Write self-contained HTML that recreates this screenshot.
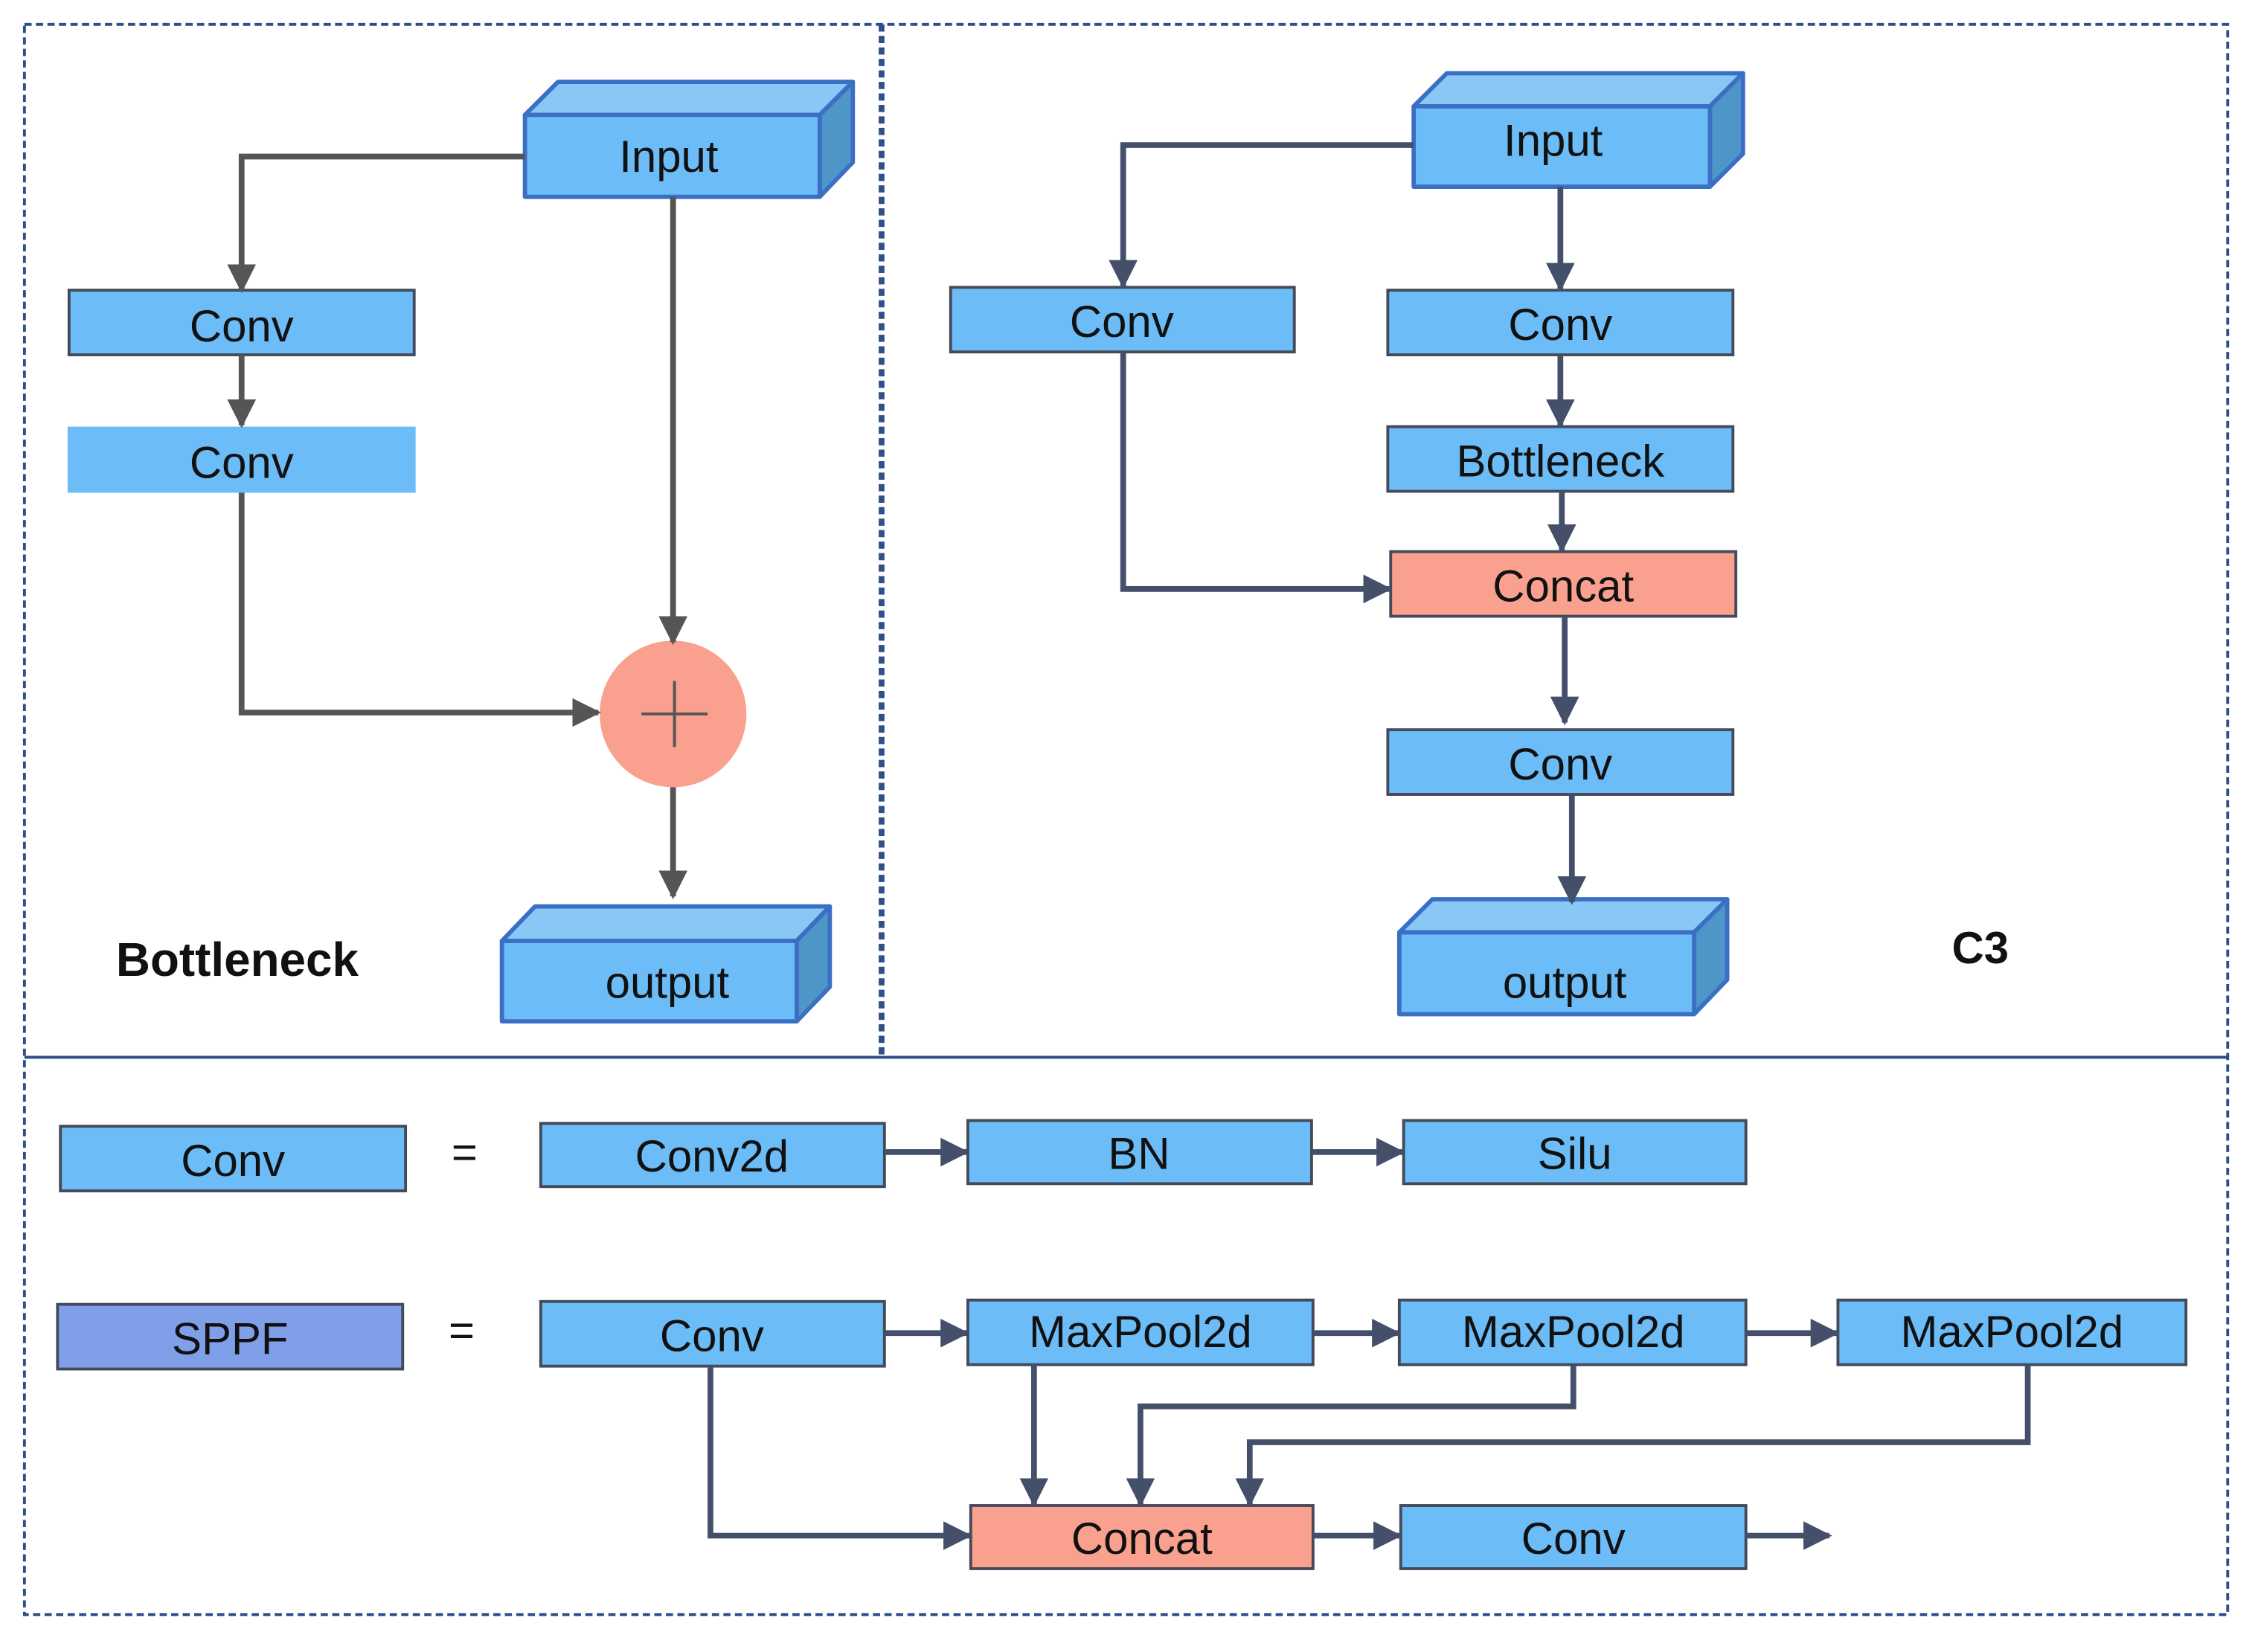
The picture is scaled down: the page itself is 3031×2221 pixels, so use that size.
<!DOCTYPE html>
<html><head><meta charset="utf-8"><style>
html,body{margin:0;padding:0;background:#fff;}
svg{display:block;}
text{font-family:"Liberation Sans",sans-serif;}
</style></head><body>
<svg width="3031" height="2221" viewBox="0 0 1568 1150" preserveAspectRatio="none" xmlns="http://www.w3.org/2000/svg">
<defs>
<marker id="a" viewBox="0 0 10 10" refX="9" refY="5" markerWidth="5" markerHeight="5" orient="auto" markerUnits="strokeWidth"><path d="M0,0 L10,5 L0,10 z" fill="#555"/></marker>
<marker id="b" viewBox="0 0 10 10" refX="9" refY="5" markerWidth="5" markerHeight="5" orient="auto" markerUnits="strokeWidth"><path d="M0,0 L10,5 L0,10 z" fill="#44506a"/></marker>
</defs>
<rect width="1568" height="1150" fill="#fff"/>
<g fill="none" stroke="#2e4e8a" stroke-width="2" stroke-dasharray="5,3">
<rect x="17" y="17" width="1532" height="1107"/>
<line x1="614" y1="17" x2="614" y2="736"/>
<line x1="612" y1="17" x2="612" y2="736"/>
</g>
<line x1="17" y1="736" x2="1549" y2="736" stroke="#2e4e8a" stroke-width="2"/>

<g stroke="#3a6fc4" stroke-width="3" stroke-linejoin="round">
<polygon points="365,80 388,57 593,57 570,80" fill="#89c8f5"/>
<polygon points="570,80 593,57 593,113 570,137" fill="#4f96c8"/>
<rect x="365" y="80" width="205" height="57" fill="#6bbcf7"/>
<polygon points="349,655 372,631 577,631 554,655" fill="#89c8f5"/>
<polygon points="554,655 577,631 577,687 554,711" fill="#4f96c8"/>
<rect x="349" y="655" width="205" height="56" fill="#6bbcf7"/>
<polygon points="983,74 1006,51 1212,51 1189,74" fill="#89c8f5"/>
<polygon points="1189,74 1212,51 1212,107 1189,130" fill="#4f96c8"/>
<rect x="983" y="74" width="206" height="56" fill="#6bbcf7"/>
<polygon points="973,649 996,626 1201,626 1178,649" fill="#89c8f5"/>
<polygon points="1178,649 1201,626 1201,682 1178,706" fill="#4f96c8"/>
<rect x="973" y="649" width="205" height="57" fill="#6bbcf7"/>
</g>

<g stroke="#454a5a" stroke-width="2">
<rect x="48" y="202" width="240" height="45" fill="#6bbcf7"/>
<rect x="661" y="200" width="239" height="45" fill="#6bbcf7"/>
<rect x="965" y="202" width="240" height="45" fill="#6bbcf7"/>
<rect x="965" y="297" width="240" height="45" fill="#6bbcf7"/>
<rect x="967" y="384" width="240" height="45" fill="#f9a08e"/>
<rect x="965" y="508" width="240" height="45" fill="#6bbcf7"/>
<rect x="42" y="784" width="240" height="45" fill="#6bbcf7"/>
<rect x="376" y="782" width="239" height="44" fill="#6bbcf7"/>
<rect x="673" y="780" width="239" height="44" fill="#6bbcf7"/>
<rect x="976" y="780" width="238" height="44" fill="#6bbcf7"/>
<rect x="40" y="908" width="240" height="45" fill="#7fa0e8"/>
<rect x="376" y="906" width="239" height="45" fill="#6bbcf7"/>
<rect x="673" y="905" width="240" height="45" fill="#6bbcf7"/>
<rect x="973" y="905" width="241" height="45" fill="#6bbcf7"/>
<rect x="1278" y="905" width="242" height="45" fill="#6bbcf7"/>
<rect x="675" y="1048" width="238" height="44" fill="#f9a08e"/>
<rect x="974" y="1048" width="240" height="44" fill="#6bbcf7"/>
</g>
<rect x="47" y="297" width="242" height="46" fill="#6bbcf7"/>
<circle cx="468" cy="497" r="51" fill="#f9a08e"/>
<g stroke="#555" stroke-width="2"><line x1="446" y1="497" x2="492" y2="497"/><line x1="469" y1="474" x2="469" y2="520"/></g>

<g fill="none" stroke="#555" stroke-width="4" marker-end="url(#a)">
<polyline points="365,109 168,109 168,202"/>
<polyline points="168,247 168,296"/>
<polyline points="468,137 468,447"/>
<polyline points="168,343 168,496 416,496"/>
<polyline points="468,548 468,624"/>
</g>
<g fill="none" stroke="#44506a" stroke-width="4" marker-end="url(#b)">
<polyline points="983,101 781,101 781,199"/>
<polyline points="1085,130 1085,201"/>
<polyline points="1085,247 1085,296"/>
<polyline points="1086,342 1086,383"/>
<polyline points="781,245 781,410 966,410"/>
<polyline points="1088,429 1088,503"/>
<polyline points="1093,553 1093,628"/>
<polyline points="615,802 672,802"/>
<polyline points="912,802 975,802"/>
<polyline points="615,928 672,928"/>
<polyline points="913,928 972,928"/>
<polyline points="1214,928 1277,928"/>
<polyline points="494,951 494,1069 674,1069"/>
<polyline points="719,950 719,1047"/>
<polyline points="1094,950 1094,979 793,979 793,1047"/>
<polyline points="1410,950 1410,1004 869,1004 869,1047"/>
<polyline points="913,1069 973,1069"/>
<polyline points="1214,1069 1272,1069"/>
</g>

<g font-size="31" fill="#111" text-anchor="middle" dominant-baseline="central">
<text x="465" y="109">Input</text>
<text x="464" y="684">output</text>
<text x="1080" y="98">Input</text>
<text x="1088" y="684">output</text>
<text x="168" y="227">Conv</text>
<text x="168" y="322">Conv</text>
<text x="780" y="224">Conv</text>
<text x="1085" y="226">Conv</text>
<text x="1085" y="321">Bottleneck</text>
<text x="1087" y="408">Concat</text>
<text x="1085" y="532">Conv</text>
<text x="162" y="808">Conv</text>
<text x="495" y="805">Conv2d</text>
<text x="792" y="803">BN</text>
<text x="1095" y="803">Silu</text>
<text x="160" y="932">SPPF</text>
<text x="495" y="930">Conv</text>
<text x="793" y="927">MaxPool2d</text>
<text x="1094" y="927">MaxPool2d</text>
<text x="1399" y="927">MaxPool2d</text>
<text x="794" y="1071">Concat</text>
<text x="1094" y="1071">Conv</text>
<text x="323" y="802">=</text>
<text x="321" y="926">=</text>
<text x="165" y="668" font-weight="bold" font-size="33">Bottleneck</text>
<text x="1377" y="660" font-weight="bold" font-size="31">C3</text>
</g>
</svg>
</body></html>
